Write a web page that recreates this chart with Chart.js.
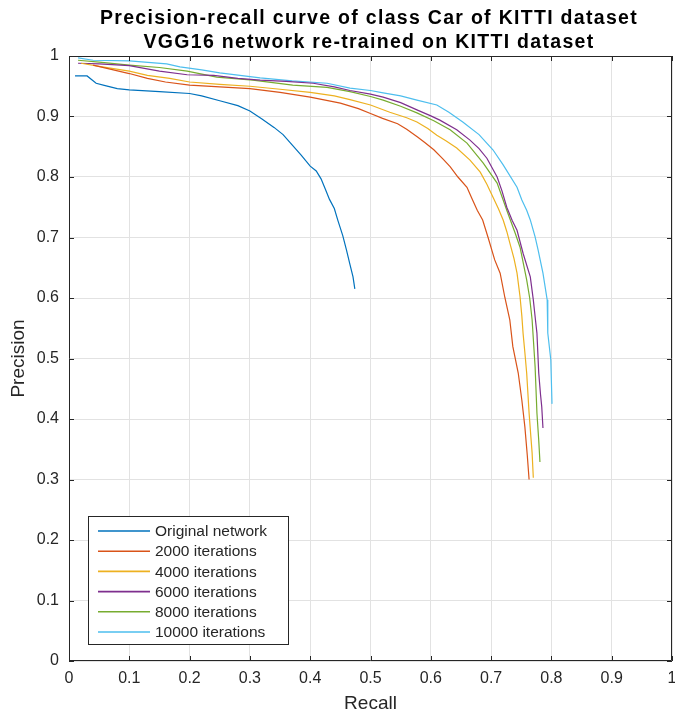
<!DOCTYPE html>
<html>
<head>
<meta charset="utf-8">
<script src="https://cdn.jsdelivr.net/npm/chart.js@4"></script>
<style>
html,body{margin:0;padding:0;background:#fff;}
#wrap{width:675px;height:716px;position:relative;}
</style>
</head>
<body>
<div id="wrap"><canvas id="c" width="675" height="716"></canvas></div>
<script>
const titleLines = ['Precision-recall curve of class Car of KITTI dataset', 'VGG16 network re-trained on KITTI dataset'];
const xAxisTitle = 'Recall';
const yAxisTitle = 'Precision';
const xTickLabels = ['0','0.1','0.2','0.3','0.4','0.5','0.6','0.7','0.8','0.9','1'];
const yTickLabels = ['0','0.1','0.2','0.3','0.4','0.5','0.6','0.7','0.8','0.9','1'];
const seriesNames = ['Original network','2000 iterations','4000 iterations','6000 iterations','8000 iterations','10000 iterations'];
const seriesColors = ['#0072BD','#D95319','#EDB120','#7E2F8E','#77AC30','#4DBEEE'];

const origRecall = [0.01,0.03,0.045,0.06,0.08,0.1,0.15,0.2,0.22,0.25,0.28,0.3,0.32,0.34,0.355,0.37,0.385,0.4,0.41,0.418,0.425,0.432,0.44,0.446,0.454,0.46,0.466,0.471,0.474];
const origPrecision = [0.967,0.967,0.955,0.951,0.946,0.944,0.941,0.938,0.934,0.926,0.918,0.909,0.896,0.882,0.87,0.853,0.836,0.818,0.81,0.797,0.78,0.763,0.748,0.728,0.703,0.68,0.655,0.635,0.615];

const it2000Recall = [0.04,0.07,0.1,0.13,0.16,0.2,0.25,0.3,0.35,0.4,0.45,0.48,0.5,0.52,0.545,0.56,0.578,0.59,0.605,0.62,0.632,0.645,0.66,0.668,0.677,0.686,0.695,0.706,0.715,0.723,0.731,0.736,0.745,0.751,0.756,0.76,0.763];
const it2000Precision = [0.985,0.978,0.971,0.963,0.957,0.952,0.949,0.946,0.94,0.932,0.922,0.913,0.905,0.897,0.888,0.879,0.866,0.857,0.845,0.83,0.817,0.8,0.783,0.765,0.745,0.729,0.7,0.663,0.641,0.6,0.564,0.52,0.476,0.431,0.387,0.34,0.3];

const it4000Recall = [0.02,0.05,0.1,0.13,0.167,0.2,0.25,0.3,0.35,0.4,0.44,0.466,0.5,0.532,0.56,0.577,0.595,0.61,0.625,0.643,0.665,0.682,0.693,0.703,0.712,0.72,0.726,0.731,0.738,0.743,0.748,0.751,0.753,0.756,0.759,0.763,0.766,0.768,0.77];
const it4000Precision = [0.988,0.983,0.975,0.968,0.963,0.957,0.953,0.95,0.945,0.94,0.934,0.928,0.919,0.907,0.898,0.891,0.88,0.869,0.86,0.848,0.828,0.808,0.788,0.767,0.748,0.729,0.71,0.691,0.665,0.641,0.602,0.57,0.542,0.51,0.476,0.41,0.37,0.344,0.303];

const it6000Recall = [0.015,0.05,0.1,0.15,0.196,0.24,0.28,0.317,0.36,0.405,0.44,0.466,0.5,0.521,0.55,0.577,0.6,0.615,0.643,0.665,0.68,0.693,0.71,0.718,0.726,0.735,0.743,0.753,0.765,0.77,0.774,0.776,0.779,0.782,0.784,0.786];
const it6000Precision = [0.988,0.987,0.984,0.975,0.969,0.968,0.963,0.96,0.958,0.955,0.949,0.943,0.937,0.932,0.923,0.911,0.901,0.894,0.878,0.861,0.847,0.831,0.8,0.777,0.75,0.728,0.712,0.674,0.635,0.597,0.56,0.542,0.476,0.44,0.42,0.385];

const it8000Recall = [0.015,0.05,0.1,0.15,0.196,0.245,0.305,0.371,0.428,0.466,0.5,0.521,0.55,0.577,0.605,0.632,0.66,0.687,0.71,0.72,0.726,0.74,0.748,0.759,0.764,0.768,0.773,0.776,0.779,0.781];
const it8000Precision = [0.993,0.99,0.985,0.981,0.975,0.965,0.96,0.952,0.948,0.941,0.933,0.927,0.917,0.906,0.893,0.878,0.856,0.823,0.79,0.762,0.745,0.707,0.684,0.63,0.6,0.564,0.486,0.41,0.365,0.329];

const it10000Recall = [0.015,0.04,0.1,0.162,0.184,0.22,0.25,0.317,0.37,0.428,0.466,0.5,0.521,0.55,0.577,0.61,0.63,0.653,0.68,0.703,0.72,0.743,0.751,0.759,0.765,0.773,0.778,0.786,0.793,0.794,0.799,0.801];
const it10000Precision = [0.997,0.993,0.992,0.987,0.982,0.977,0.972,0.964,0.959,0.955,0.947,0.943,0.939,0.934,0.927,0.919,0.907,0.891,0.87,0.845,0.82,0.783,0.762,0.745,0.729,0.701,0.679,0.641,0.597,0.542,0.498,0.425];

const recallSets = [origRecall, it2000Recall, it4000Recall, it6000Recall, it8000Recall, it10000Recall];
const precisionSets = [origPrecision, it2000Precision, it4000Precision, it6000Precision, it8000Precision, it10000Precision];

const datasets = seriesNames.map((name, i) => ({
  label: name,
  data: recallSets[i].map((r, j) => ({x: r, y: precisionSets[i][j]})),
  borderColor: seriesColors[i],
  backgroundColor: seriesColors[i],
  borderWidth: 1.2,
  pointRadius: 0,
  showLine: true,
  fill: false,
  tension: 0
}));

const FONT = "'Liberation Sans', Arial, Helvetica, sans-serif";
const AXIS = '#262626';

const decorPlugin = {
  id: 'decor',
  afterDatasetsDraw(chart) {
    const ctx = chart.ctx;
    const a = chart.chartArea;
    const xs = chart.scales.x, ys = chart.scales.y;
    ctx.save();
    ctx.strokeStyle = AXIS;
    ctx.lineWidth = 1;
    // box
    ctx.beginPath();
    ctx.moveTo(a.left + 0.5, a.top + 0.5);
    ctx.lineTo(a.right - 0.5, a.top + 0.5);
    ctx.lineTo(a.right - 0.5, a.bottom - 0.5);
    ctx.moveTo(a.left + 0.5, a.top + 0.5);
    ctx.lineTo(a.left + 0.5, a.bottom - 0.5);
    ctx.lineTo(a.right - 0.5, a.bottom - 0.5);
    ctx.stroke();
    // inward ticks
    const tl = 5;
    ctx.beginPath();
    xs.ticks.forEach(t => {
      const px = Math.round(xs.getPixelForValue(t.value)) + 0.5;
      ctx.moveTo(px, a.bottom); ctx.lineTo(px, a.bottom - tl);
      ctx.moveTo(px, a.top); ctx.lineTo(px, a.top + tl);
    });
    ys.ticks.forEach(t => {
      const py = Math.round(ys.getPixelForValue(t.value)) + 0.5;
      ctx.moveTo(a.left, py); ctx.lineTo(a.left + tl, py);
      ctx.moveTo(a.right, py); ctx.lineTo(a.right - tl, py);
    });
    ctx.stroke();
    // legend
    const lx = 88, ly = 516, lw = 200, lh = 128;
    ctx.fillStyle = '#ffffff';
    ctx.fillRect(lx, ly, lw, lh);
    ctx.strokeStyle = AXIS;
    ctx.strokeRect(lx + 0.5, ly + 0.5, lw, lh);
    ctx.font = '15.5px ' + FONT;
    ctx.textBaseline = 'middle';
    ctx.textAlign = 'left';
    chart.data.datasets.forEach((ds, i) => {
      const y = ly + 15 + i * 20.2;
      ctx.strokeStyle = ds.borderColor;
      ctx.lineWidth = 1.6;
      ctx.beginPath();
      ctx.moveTo(98, y);
      ctx.lineTo(150, y);
      ctx.stroke();
      ctx.fillStyle = AXIS;
      ctx.fillText(ds.label, 155, y + 1);
    });
    // title
    ctx.fillStyle = '#000000';
    ctx.font = 'bold 19.5px ' + FONT;
    ctx.textAlign = 'center';
    ctx.textBaseline = 'alphabetic';
    try { ctx.letterSpacing = '1.3px'; } catch (e) {}
    ctx.fillText(titleLines[0], 369, 24);
    ctx.fillText(titleLines[1], 369, 47.5);
    ctx.restore();
  }
};

new Chart(document.getElementById('c'), {
  type: 'scatter',
  data: { datasets },
  options: {
    responsive: false,
    animation: false,
    devicePixelRatio: 1,
    layout: { padding: { top: 56, right: 3, left: 0, bottom: 0 } },
    plugins: { legend: { display: false }, title: { display: false }, tooltip: { enabled: false } },
    scales: {
      x: {
        type: 'linear', min: 0, max: 1,
        ticks: { stepSize: 0.1, autoSkip: false, maxRotation: 0, padding: 8, color: AXIS,
          font: { family: FONT, size: 16 },
          callback: (v, i) => xTickLabels[i] },
        grid: { color: '#e2e2e2', drawTicks: false },
        border: { display: false },
        title: { display: true, text: xAxisTitle, color: AXIS, font: { family: FONT, size: 19 }, padding: { top: 0, bottom: 1 } },
        afterFit(s) { s.height = 55; s.paddingLeft = 0; s.paddingRight = 0; }
      },
      y: {
        type: 'linear', min: 0, max: 1,
        ticks: { stepSize: 0.1, autoSkip: false, padding: 10, color: AXIS,
          font: { family: FONT, size: 16 },
          callback: (v, i) => yTickLabels[i] },
        grid: { color: '#e2e2e2', drawTicks: false },
        border: { display: false },
        title: { display: true, text: yAxisTitle, color: AXIS, font: { family: FONT, size: 19 }, padding: { top: 7, bottom: 0 } },
        afterFit(s) { s.width = 69; s.paddingTop = 0; s.paddingBottom = 0; }
      }
    }
  },
  plugins: [decorPlugin]
});
</script>
</body>
</html>
